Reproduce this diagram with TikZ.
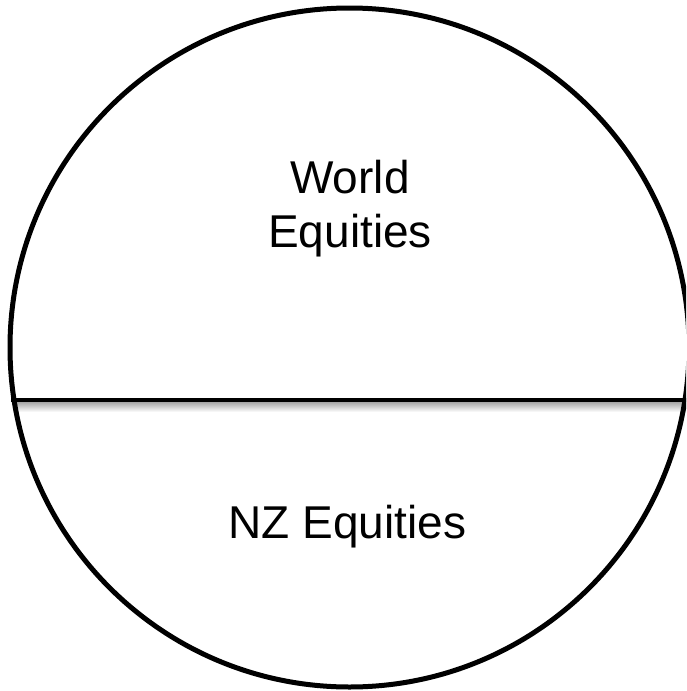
\documentclass[tikz,border=0pt]{standalone}
\usepackage{fontspec}
\setmainfont{Liberation Sans}
\begin{document}
\begin{tikzpicture}[x=1pt,y=-1pt,
  outline/.style={draw=black,line width=5pt},
  label/.style={font=\fontsize{46}{54}\selectfont,align=center,anchor=base,inner sep=0pt}]
\useasboundingbox (0,0) rectangle (686,691);
\begin{scope}
\clip (0,0) rectangle (686,691);
\shade[top color=black!35,bottom color=white] (14,402) rectangle (686,412);
\node[outline,circle,minimum size=679pt,inner sep=0pt] (pie) at (349.5,347.5) {};
\coordinate (lineL) at (11,400);
\coordinate (lineR) at (690,400);
\draw[line width=4.5pt] (lineL) -- (lineR);
\end{scope}
\node[label] (world) at (350,247) {World\\Equities};
\node[label] (nz) at (347.5,538) {NZ Equities};
\end{tikzpicture}
\end{document}
